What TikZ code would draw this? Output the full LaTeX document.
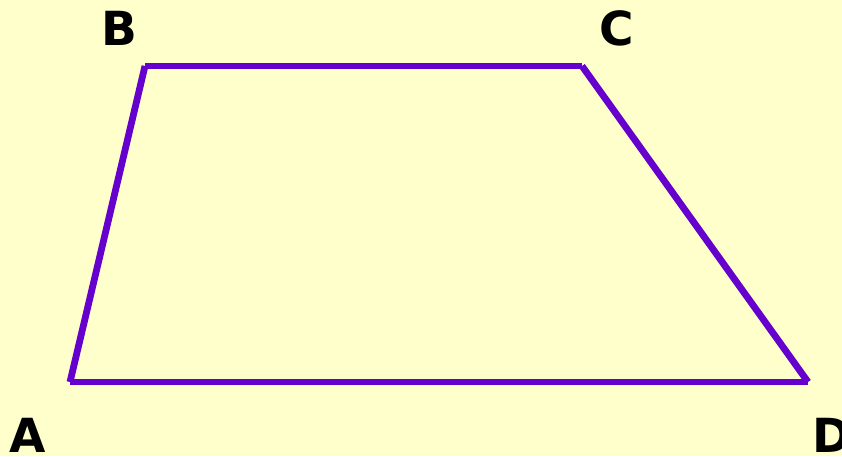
\documentclass[tikz,border=0pt]{standalone}
\usepackage{fontspec}
\setmainfont{DejaVu Sans}
\begin{document}
\begin{tikzpicture}[x=1pt,y=-1pt,
  side/.style={draw=edgecol,line width=6.8pt,line cap=butt},
  lbl/.style={font=\fontsize{47}{47}\selectfont\bfseries,text=black,inner sep=0pt,anchor=center}]
\definecolor{bgcol}{HTML}{FFFFCC}
\definecolor{edgecol}{HTML}{6600CC}
\fill[bgcol] (0,0) rectangle (842,456);
\useasboundingbox (0,0) rectangle (842,456);
\coordinate (A) at (70,382);
\coordinate (B) at (145,66);
\coordinate (C) at (582,66);
\coordinate (D) at (808,382);
\draw[side] (A) -- (B);
\draw[side] (B) -- (C);
\draw[side] (C) -- (D);
\draw[side] (A) -- (D);
\node[lbl] (lA) at (28,435) {A};
\node[lbl] (lB) at (119,28) {B};
\node[lbl] (lC) at (617,28) {C};
\node[lbl] (lD) at (832,435) {D};
\end{tikzpicture}
\end{document}
